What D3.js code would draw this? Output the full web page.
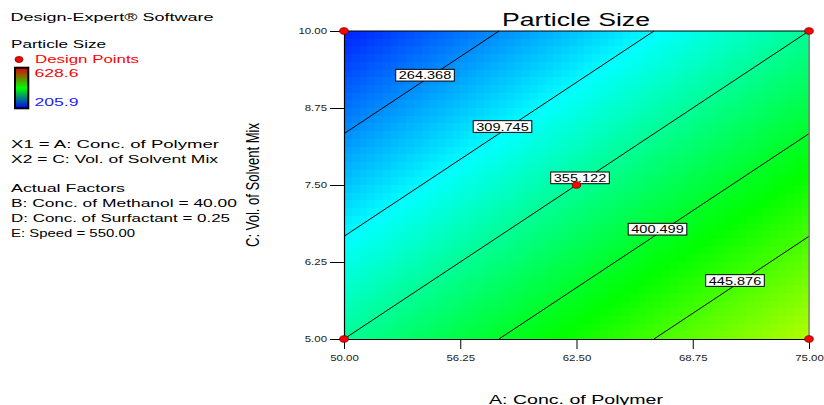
<!DOCTYPE html>
<html>
<head>
<meta charset="utf-8">
<script src="https://cdn.jsdelivr.net/npm/d3@7"></script>
<style>
  html, body { margin: 0; padding: 0; background: #fff; }
  svg { display: block; font-family: "Liberation Sans", Arial, sans-serif; }
</style>
</head>
<body>
<svg id="chart" width="824" height="405"></svg>
<script>
// ---------- data ----------
const factorA = [50, 75];            // A: Conc. of Polymer range
const factorC = [5, 10];             // C: Vol. of Solvent Mix range
const xTicks = [50, 56.25, 62.5, 68.75, 75];
const yTicks = [5, 6.25, 7.5, 8.75, 10];
const contourLevels = [264.368, 309.745, 355.122, 400.499, 445.876];
const responseRange = [205.9, 628.6];
// coded-unit model: intercept, A, C
const modelCoef = [355.122, 68.07, -68.07];
const designPoints = [[50, 5], [50, 10], [75, 5], [75, 10], [62.5, 7.5]];
const infoLines = [
  "X1 = A: Conc. of Polymer",
  "X2 = C: Vol. of Solvent Mix"
];
const factorLines = [
  "B: Conc. of Methanol = 40.00",
  "D: Conc. of Surfactant = 0.25",
  "E: Speed = 550.00"
];

// ---------- layout ----------
const svg = d3.select("#chart");
const L = 344, R = 809, T = 31, B = 339;
const x = d3.scaleLinear().domain(factorA).range([L, R]);
const y = d3.scaleLinear().domain(factorC).range([B, T]);

const aMid = (factorA[0] + factorA[1]) / 2, aHalf = (factorA[1] - factorA[0]) / 2;
const cMid = (factorC[0] + factorC[1]) / 2, cHalf = (factorC[1] - factorC[0]) / 2;
function response(a, c) {
  return modelCoef[0] + modelCoef[1] * (a - aMid) / aHalf + modelCoef[2] * (c - cMid) / cHalf;
}
const span = responseRange[1] - responseRange[0];
const color = d3.scaleLinear()
  .domain([0, 0.25, 0.5, 0.75, 1].map(t => responseRange[0] + t * span))
  .range(["#0000ff", "#00ffff", "#00ff00", "#ffff00", "#ff0000"])
  .clamp(true);

function txt(sel, s, px, py, size, width, fill, anchor) {
  const t = sel.append("text").attr("x", px).attr("y", py)
    .attr("font-size", size).attr("fill", fill || "#000")
    .attr("text-anchor", anchor || "start").text(s);
  if (width) t.attr("textLength", width).attr("lengthAdjust", "spacingAndGlyphs");
  return t;
}

// ---------- heat map cells ----------
const nx = 60, ny = 40;
const cellW = (R - L) / nx, cellH = (B - T) / ny;
const cells = [];
for (let i = 0; i < nx; i++) for (let j = 0; j < ny; j++) cells.push([i, j]);
svg.append("g").attr("shape-rendering", "crispEdges")
  .selectAll("rect").data(cells).join("rect")
  .attr("x", d => L + d[0] * cellW)
  .attr("y", d => T + d[1] * cellH)
  .attr("width", cellW + 0.6)
  .attr("height", cellH + 0.6)
  .attr("fill", d => {
    const a = x.invert(L + (d[0] + 0.5) * cellW);
    const c = y.invert(T + (d[1] + 0.5) * cellH);
    return color(response(a, c));
  });

// ---------- contour lines ----------
function segment(level) {
  const k = level - modelCoef[0];
  const pts = [];
  const eps = 1e-9;
  for (const xa of [-1, 1]) {
    const xc = (k - modelCoef[1] * xa) / modelCoef[2];
    if (xc >= -1 - eps && xc <= 1 + eps) pts.push([xa, xc]);
  }
  for (const xc of [-1, 1]) {
    const xa = (k - modelCoef[2] * xc) / modelCoef[1];
    if (xa >= -1 - eps && xa <= 1 + eps) pts.push([xa, xc]);
  }
  const uniq = [];
  pts.forEach(p => { if (!uniq.some(q => Math.abs(q[0] - p[0]) < 1e-6 && Math.abs(q[1] - p[1]) < 1e-6)) uniq.push(p); });
  return uniq.slice(0, 2).map(([xa, xc]) => [aMid + aHalf * xa, cMid + cHalf * xc]);
}
const segs = contourLevels.map(lv => ({ level: lv, pts: segment(lv) }));
const line = d3.line().x(d => x(d[0])).y(d => y(d[1]));
svg.append("g").selectAll("path").data(segs).join("path")
  .attr("d", d => line(d.pts))
  .attr("fill", "none").attr("stroke", "#000").attr("stroke-width", 1);

// ---------- plot frame ----------
svg.append("line").attr("x1", L).attr("x2", R).attr("y1", T).attr("y2", T)
  .attr("stroke", "#000").attr("stroke-width", 1.2);
svg.append("line").attr("x1", R).attr("x2", R).attr("y1", T).attr("y2", B)
  .attr("stroke", "#777").attr("stroke-width", 1.2);

// ---------- axes ----------
const fmt = d3.format(".2f");
const gx = svg.append("g").attr("transform", `translate(0,${B})`)
  .call(d3.axisBottom(x).tickValues(xTicks).tickFormat(fmt).tickSize(10).tickSizeOuter(0).tickPadding(6));
const gy = svg.append("g").attr("transform", `translate(${L},0)`)
  .call(d3.axisLeft(y).tickValues(yTicks).tickFormat(fmt).tickSize(14).tickSizeOuter(0).tickPadding(3));
[gx, gy].forEach(g => {
  g.selectAll("path.domain").attr("stroke", "#000").attr("stroke-width", 1.2);
  g.selectAll(".tick line").attr("stroke", "#000");
  g.selectAll(".tick text").attr("font-family", "Liberation Sans, Arial, sans-serif")
    .attr("font-size", 8.8).attr("fill", "#222")
    .each(function () {
      const w = this.getComputedTextLength();
      d3.select(this).attr("textLength", w * 1.3).attr("lengthAdjust", "spacingAndGlyphs");
    });
});

// ---------- contour labels ----------
const lab = svg.append("g").selectAll("g").data(segs).join("g")
  .attr("transform", d => {
    const mx = (x(d.pts[0][0]) + x(d.pts[1][0])) / 2 + 3.5;
    const my = (y(d.pts[0][1]) + y(d.pts[1][1])) / 2 - 7;
    return `translate(${mx},${my})`;
  });
lab.append("rect").attr("x", -29.3).attr("y", -6).attr("width", 58.6).attr("height", 11.7)
  .attr("fill", "#fff").attr("stroke", "#000").attr("stroke-width", 1);
lab.append("text").attr("x", 0).attr("y", 4).attr("text-anchor", "middle")
  .attr("font-size", 10.6).attr("textLength", 52.5).attr("lengthAdjust", "spacingAndGlyphs")
  .text(d => d.level.toFixed(3));

// ---------- design points ----------
svg.append("g").selectAll("ellipse").data(designPoints).join("ellipse")
  .attr("cx", d => x(d[0])).attr("cy", d => y(d[1]))
  .attr("rx", 4.3).attr("ry", 3.3)
  .attr("fill", "#ff0000").attr("stroke", "#700").attr("stroke-width", 0.8);

// ---------- titles ----------
txt(svg, "Particle Size", 576, 25.5, 17.5, 148, "#000", "middle");
txt(svg, "A: Conc. of Polymer", 576, 403.5, 13.3, 174, "#000", "middle");
const yl = svg.append("g").attr("transform", "translate(259,185) rotate(-90)");
txt(yl, "C: Vol. of Solvent Mix", 0, 0, 19, 124, "#000", "middle");

// ---------- left info panel ----------
txt(svg, "Design-Expert® Software", 10.5, 20.7, 11.3, 203);
txt(svg, "Particle Size", 11, 48.3, 11, 95);
svg.append("ellipse").attr("cx", 19).attr("cy", 59.5).attr("rx", 4).attr("ry", 3)
  .attr("fill", "#ff0000").attr("stroke", "#700").attr("stroke-width", 0.8);
txt(svg, "Design Points", 35, 62.5, 11, 104, "#ff0000");
const grad = svg.append("defs").append("linearGradient").attr("id", "lg")
  .attr("x1", 0).attr("x2", 0).attr("y1", 0).attr("y2", 1);
[["0%", "#e00000"], ["50%", "#00ff00"], ["100%", "#0000ff"]].forEach(s =>
  grad.append("stop").attr("offset", s[0]).attr("stop-color", s[1]));
svg.append("rect").attr("x", 15).attr("y", 67.7).attr("width", 13.3).attr("height", 40.6)
  .attr("fill", "url(#lg)").attr("stroke", "#000").attr("stroke-width", 2);
txt(svg, d3.format(".1f")(responseRange[1]), 34.5, 77, 11, 44, "#ff0000");
txt(svg, d3.format(".1f")(responseRange[0]), 34.5, 106, 11, 44, "#2020ff");

const infoW = [208, 207];
infoLines.forEach((s, i) => txt(svg, s, 11, 147.7 + i * 15, 11, infoW[i]));
txt(svg, "Actual Factors", 11, 191.7, 11, 114);
const factW = [226, 219, 124];
factorLines.forEach((s, i) => txt(svg, s, 11, 207 + i * 15, 11, factW[i]));
</script>
</body>
</html>
